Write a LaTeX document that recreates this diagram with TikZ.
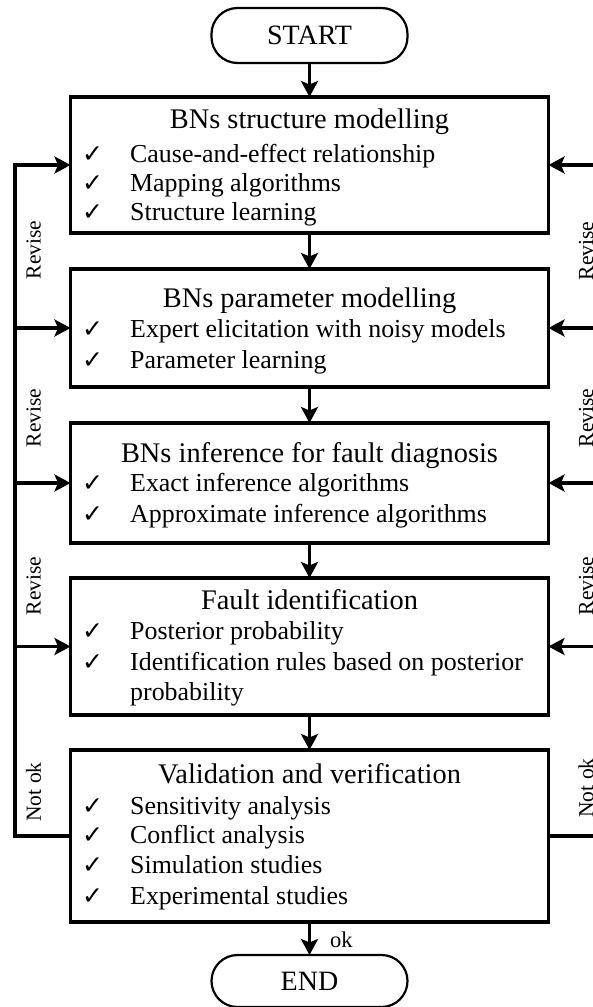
\documentclass[tikz,border=0pt]{standalone}
\usepackage{fontspec}
\setmainfont{Liberation Serif}
\newfontfamily\symfont{DejaVu Sans}
\usetikzlibrary{arrows.meta}
\begin{document}
\begin{tikzpicture}[x=1pt,y=-1pt,
  box/.style={draw, line width=3.3pt, minimum width=478pt, inner sep=0pt, outer sep=0pt},
  term/.style={draw, line width=2.2pt, rounded corners=26pt, minimum width=196pt, minimum height=55pt, font=\fontsize{28}{30}\selectfont, inner sep=0pt, outer sep=0pt},
  ttl/.style={anchor=base, font=\fontsize{28.4}{30}\selectfont, inner sep=0pt},
  itm/.style={anchor=base west, font=\fontsize{25.9}{28}\selectfont, inner sep=0pt},
  chk/.style={anchor=base west, font=\symfont\fontsize{25}{28}\selectfont, inner sep=0pt},
  arr/.style={line width=3.3pt, line join=miter, -{Stealth[length=16pt,width=17pt,inset=3.5pt]}},
  lbl/.style={rotate=90, font=\fontsize{21.5}{24}\selectfont, inner sep=0pt},
  oklbl/.style={anchor=base west, font=\fontsize{22.5}{24}\selectfont, inner sep=0pt},
]
\useasboundingbox (0,0) rectangle (593,1007);
\clip (0,0) rectangle (593,1007);

% terminals
\node[term] (start) at (309.5,35.5) {START};
\node[term, minimum height=52pt] (end) at (309.5,981) {END};

% boxes
\node[box, minimum height=136pt] (b1) at (309.5,165) {};
\node[box, minimum height=118pt] (b2) at (309.5,328) {};
\node[box, minimum height=120pt] (b3) at (309.5,483) {};
\node[box, minimum height=137pt] (b4) at (309.5,646.5) {};
\node[box, minimum height=172pt] (b5) at (309.5,836) {};

% box 1
\node[ttl] (t1) at (309.5,128) {BNs structure modelling};
\node[chk] (c11) at (82,162) {✓};
\node[itm] (i11) at (130,162) {Cause-and-effect relationship};
\node[chk] (c12) at (82,191) {✓};
\node[itm] (i12) at (130,191) {Mapping algorithms};
\node[chk] (c13) at (82,220) {✓};
\node[itm] (i13) at (130,220) {Structure learning};

% box 2
\node[ttl] (t2) at (309.5,307) {BNs parameter modelling};
\node[chk] (c21) at (82,337) {✓};
\node[itm] (i21) at (130,337) {Expert elicitation with noisy models};
\node[chk] (c22) at (82,368) {✓};
\node[itm] (i22) at (130,368) {Parameter learning};

% box 3
\node[ttl] (t3) at (309.5,462) {BNs inference for fault diagnosis};
\node[chk] (c31) at (82,491) {✓};
\node[itm] (i31) at (130,491) {Exact inference algorithms};
\node[chk] (c32) at (82,522) {✓};
\node[itm] (i32) at (130,522) {Approximate inference algorithms};

% box 4
\node[ttl] (t4) at (309.5,609) {Fault identification};
\node[chk] (c41) at (82,639) {✓};
\node[itm] (i41) at (130,639) {Posterior probability};
\node[chk] (c42) at (82,670) {✓};
\node[itm] (i42) at (130,670) {Identification rules based on posterior};
\node[itm] (i43) at (130,700) {probability};

% box 5
\node[ttl] (t5) at (309.5,783) {Validation and verification};
\node[chk] (c51) at (82,814) {✓};
\node[itm] (i51) at (130,814) {Sensitivity analysis};
\node[chk] (c52) at (82,843) {✓};
\node[itm] (i52) at (130,843) {Conflict analysis};
\node[chk] (c53) at (82,873) {✓};
\node[itm] (i53) at (130,873) {Simulation studies};
\node[chk] (c54) at (82,904) {✓};
\node[itm] (i54) at (130,904) {Experimental studies};

% main flow
\draw[arr] (start) -- (b1);
\draw[arr] (b1) -- (b2);
\draw[arr] (b2) -- (b3);
\draw[arr] (b3) -- (b4);
\draw[arr] (b4) -- (b5);
\draw[arr] (b5) -- (end);
\node[oklbl] (ok) at (330,947) {ok};

% left feedback
\coordinate (lt) at (15,165);
\coordinate (lb) at (15,836);
\draw[arr] (b5.west) -- (lb) -- (lt) -- (b1.west);
\draw[arr] (b2.west -| lt) -- (b2.west);
\draw[arr] (b3.west -| lt) -- (b3.west);
\draw[arr] (b4.west -| lt) -- (b4.west);

% right feedback
\coordinate (rt) at (606,165);
\coordinate (rb) at (606,836);
\draw[arr] (b5.east) -- (rb) -- (rt) -- (b1.east);
\draw[arr] (b2.east -| rt) -- (b2.east);
\draw[arr] (b3.east -| rt) -- (b3.east);
\draw[arr] (b4.east -| rt) -- (b4.east);

% labels
\node[lbl] (lr1) at (33.5,250) {Revise};
\node[lbl] (lr2) at (33.5,418) {Revise};
\node[lbl] (lr3) at (33.5,586) {Revise};
\node[lbl] (ln) at (33.5,792) {Not ok};
\node[lbl] (rr1) at (586,251) {Revise};
\node[lbl] (rr2) at (586,418) {Revise};
\node[lbl] (rr3) at (586,586) {Revise};
\node[lbl] (rn) at (586,788) {Not ok};
\end{tikzpicture}
\end{document}
